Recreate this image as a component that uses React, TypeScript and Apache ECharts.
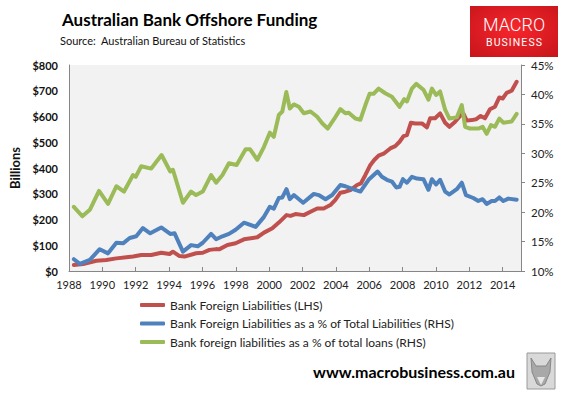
import React, { useEffect, useRef } from "react";
import * as echarts from "echarts";

const xTickYears = [1988, 1990, 1992, 1994, 1996, 1998, 2000, 2002, 2004, 2006, 2008, 2010, 2012, 2014];

const seriesNames = [
  "Bank Foreign Liabilities (LHS)",
  "Bank Foreign Liabilities as a % of Total Liabilities (RHS)",
  "Bank foreign liabilities as a % of total loans (RHS)",
];

// Bank Foreign Liabilities ($ billions, LHS)
const redYears = [1988.29, 1988.85, 1989.64, 1990.24, 1990.84, 1991.44, 1991.84, 1992.33, 1992.93, 1993.53, 1994.03, 1994.23, 1994.63, 1994.93, 1995.62, 1996.02, 1996.42, 1996.82, 1997.0, 1997.5, 1997.99, 1998.49, 1999.29, 1999.69, 2000.19, 2000.58, 2001.04, 2001.28, 2001.58, 2002.08, 2002.48, 2002.88, 2003.27, 2003.67, 2003.97, 2004.27, 2004.57, 2004.87, 2005.27, 2005.5, 2005.77, 2006.07, 2006.3, 2006.56, 2006.9, 2007.26, 2007.56, 2007.82, 2008.06, 2008.26, 2008.5, 2008.76, 2009.16, 2009.46, 2009.65, 2009.95, 2010.25, 2010.55, 2010.81, 2011.15, 2011.45, 2011.64, 2011.85, 2012.15, 2012.4, 2012.68, 2012.94, 2013.24, 2013.54, 2013.8, 2014.0, 2014.24, 2014.54, 2014.84];
const redValues = [23, 27, 40, 43, 49, 53, 56, 62, 62, 71, 66, 75, 58, 56, 69, 71, 82, 85, 84, 101, 108, 123, 131, 149, 166, 188, 217, 214, 221, 217, 230, 243, 243, 256, 276, 304, 308, 314, 334, 340, 373, 412, 431, 448, 457, 476, 485, 502, 524, 528, 576, 573, 573, 558, 593, 593, 612, 576, 560, 580, 602, 612, 584, 586, 589, 602, 593, 628, 638, 674, 670, 692, 700, 735];

// % of total liabilities (RHS)
const blueYears = [1988.29, 1988.65, 1989.25, 1989.84, 1990.34, 1990.84, 1991.24, 1991.64, 1992.03, 1992.43, 1992.87, 1993.53, 1994.07, 1994.33, 1994.83, 1995.32, 1995.72, 1996.02, 1996.52, 1996.82, 1997.2, 1997.59, 1997.99, 1998.49, 1999.19, 1999.69, 2000.04, 2000.28, 2000.58, 2000.79, 2001.04, 2001.24, 2001.48, 2002.04, 2002.68, 2002.97, 2003.38, 2003.78, 2004.27, 2004.57, 2005.03, 2005.47, 2005.96, 2006.5, 2006.76, 2007.06, 2007.36, 2007.62, 2007.82, 2008.02, 2008.26, 2008.56, 2008.86, 2009.25, 2009.55, 2009.76, 2010.01, 2010.25, 2010.55, 2010.81, 2011.25, 2011.55, 2011.8, 2012.24, 2012.54, 2012.8, 2013.04, 2013.34, 2013.54, 2013.8, 2014.04, 2014.34, 2014.84];
const blueValues = [12.0, 11.2, 11.9, 13.7, 13.0, 14.8, 14.7, 15.6, 15.9, 17.3, 16.4, 17.4, 16.3, 16.4, 13.3, 14.4, 14.2, 14.8, 16.3, 15.4, 15.9, 16.3, 17.0, 18.2, 17.5, 19.2, 20.9, 20.6, 22.4, 22.5, 23.9, 22.2, 22.9, 21.6, 23.1, 22.9, 22.2, 22.9, 24.6, 24.4, 23.9, 23.5, 25.5, 26.9, 26.0, 25.5, 25.2, 24.2, 24.3, 25.6, 25.0, 26.0, 25.7, 25.6, 23.8, 25.6, 24.7, 25.5, 23.5, 23.0, 23.9, 25.0, 22.9, 22.4, 21.9, 22.2, 21.4, 21.9, 21.9, 22.5, 21.9, 22.3, 22.1];

// % of total loans (RHS)
const greenYears = [1988.29, 1988.8, 1989.25, 1989.8, 1990.34, 1990.84, 1991.3, 1991.84, 1992.0, 1992.33, 1992.93, 1993.55, 1994.07, 1994.23, 1994.83, 1995.32, 1995.62, 1996.02, 1996.52, 1996.82, 1997.2, 1997.59, 1998.05, 1998.59, 1998.85, 1999.29, 1999.69, 2000.04, 2000.28, 2000.58, 2000.79, 2001.03, 2001.24, 2001.48, 2001.78, 2002.08, 2002.48, 2002.88, 2003.18, 2003.51, 2003.87, 2004.27, 2004.57, 2004.77, 2005.17, 2005.47, 2005.77, 2006.02, 2006.26, 2006.56, 2006.96, 2007.36, 2007.82, 2008.1, 2008.26, 2008.56, 2008.82, 2009.25, 2009.55, 2009.76, 2010.01, 2010.25, 2010.55, 2010.81, 2011.25, 2011.55, 2011.75, 2012.04, 2012.54, 2012.8, 2013.04, 2013.3, 2013.54, 2013.8, 2014.04, 2014.54, 2014.84];
const greenValues = [20.9, 19.3, 20.4, 23.6, 21.4, 24.4, 23.5, 26.3, 26.0, 27.8, 27.4, 29.7, 26.9, 27.2, 21.6, 23.5, 22.9, 23.5, 26.3, 25.0, 26.3, 28.3, 28.0, 30.7, 30.7, 28.9, 31.1, 33.5, 32.8, 36.5, 37.1, 40.4, 37.6, 38.3, 37.9, 36.8, 37.1, 36.2, 35.1, 34.2, 35.7, 37.5, 36.8, 36.9, 35.9, 35.7, 38.2, 40.1, 40.1, 41.0, 40.2, 39.6, 37.9, 39.2, 38.8, 41.0, 41.8, 40.8, 39.1, 41.0, 39.9, 40.5, 37.4, 35.9, 36.1, 38.2, 34.5, 34.2, 34.2, 34.5, 33.3, 34.8, 34.5, 35.9, 35.2, 35.4, 36.7];

const zip = (xs: number[], ys: number[]) => xs.map((x, i) => [x, ys[i]]);

const FONT = "Lato, 'Noto Sans', sans-serif";

export default function App() {
  const ref = useRef<HTMLDivElement>(null);
  useEffect(() => {
    if (!ref.current) return;
    const chart = echarts.init(ref.current, undefined, { renderer: "svg" });
    const colors = ["#c0504d", "#4f81bd", "#9bbb59"];
    const lineSeries = (name: string, data: number[][], color: string, yAxisIndex: number) => ({
      name,
      type: "line",
      data,
      yAxisIndex,
      symbol: "none",
      lineStyle: { width: 4, color, cap: "round", join: "round" },
      itemStyle: { color },
    });
    chart.setOption({
      animation: false,
      backgroundColor: "#ffffff",
      textStyle: { fontFamily: FONT },
      grid: { left: 68, right: 45, top: 65, bottom: 122, show: true, backgroundColor: "#f2f2f2", borderWidth: 0 },
      legend: {
        orient: "vertical",
        left: 135,
        top: 293,
        icon: "roundRect",
        itemWidth: 25,
        itemHeight: 4,
        itemGap: 4.5,
        data: seriesNames,
        textStyle: { fontSize: 12, color: "#222", lineHeight: 14, fontFamily: FONT },
      },
      xAxis: {
        type: "value",
        min: 1988,
        max: 2015.1,
        interval: 2,
        splitLine: { show: false },
        axisLine: { show: true, lineStyle: { color: "#868686", width: 1 } },
        axisTick: { show: true, inside: true, length: 4, lineStyle: { color: "#868686" } },
        axisLabel: {
          margin: 8,
          fontSize: 11,
          color: "#222",
          showMaxLabel: false,
          formatter: (v: number) => (xTickYears.indexOf(v) >= 0 ? String(v) : ""),
        },
      },
      yAxis: [
        {
          type: "value",
          min: 0,
          max: 800,
          interval: 100,
          position: "left",
          name: "Billions",
          nameLocation: "middle",
          nameRotate: 90,
          nameGap: 48,
          nameTextStyle: { fontSize: 13, fontWeight: "bold", color: "#111", fontFamily: FONT },
          splitLine: { show: false },
          axisLine: { show: true, lineStyle: { color: "#868686" } },
          axisTick: { show: false },
          axisLabel: { margin: 11, fontSize: 11, fontWeight: "bold", color: "#111", formatter: (v: number) => "$" + v },
        },
        {
          type: "value",
          min: 10,
          max: 45,
          interval: 5,
          position: "right",
          splitLine: { show: false },
          axisLine: { show: true, lineStyle: { color: "#868686" } },
          axisTick: { show: true, inside: false, length: 4, lineStyle: { color: "#868686" } },
          axisLabel: { margin: 10, fontSize: 11.5, color: "#222", formatter: (v: number) => v + "%" },
        },
      ],
      series: [
        lineSeries(seriesNames[0], zip(redYears, redValues), colors[0], 0),
        lineSeries(seriesNames[1], zip(blueYears, blueValues), colors[1], 1),
        lineSeries(seriesNames[2], zip(greenYears, greenValues), colors[2], 1),
      ],
      graphic: [
        {
          type: "text",
          left: 62,
          top: 11,
          style: { text: "Australian Bank Offshore Funding", fontSize: 17, fontWeight: "bold", fill: "#000", fontFamily: FONT },
        },
        {
          type: "text",
          left: 60,
          top: 35,
          style: { text: "Source:  Australian Bureau of Statistics", fontSize: 11, fill: "#111", fontFamily: FONT },
        },
        {
          type: "rect",
          shape: { x: 470, y: 6, width: 88, height: 51 },
          style: {
            fill: new echarts.graphic.RadialGradient(0.5, 0.45, 0.75, [
              { offset: 0, color: "#f7262c" },
              { offset: 1, color: "#c5141b" },
            ]),
          },
        },
        {
          type: "text",
          x: 514,
          y: 24,
          style: { text: "MACRO", fontSize: 18, lineHeight: 18, fontWeight: 300, fill: "#fff", align: "center", verticalAlign: "middle", fontFamily: "Roboto, sans-serif" },
        },
        {
          type: "text",
          x: 514,
          y: 42,
          style: { text: "B\u200aU\u200aS\u200aI\u200aN\u200aE\u200aS\u200aS", fontSize: 10.5, lineHeight: 10.5, fill: "#fff", align: "center", verticalAlign: "middle", fontFamily: "Roboto, sans-serif" },
        },
        {
          type: "text",
          x: 414,
          y: 371,
          style: { text: "www.macrobusiness.com.au", fontSize: 16, fontWeight: "bold", fill: "#000", align: "center", verticalAlign: "middle", fontFamily: FONT },
        },
        {
          type: "rect",
          shape: { x: 527, y: 353, width: 28, height: 36 },
          style: { fill: "#d9d9d9", stroke: "#9a9a9a", lineWidth: 1 },
        },
        {
          type: "polygon",
          shape: { points: [[531, 358], [536, 366], [546, 366], [551, 358], [550, 372], [545, 384], [541, 386], [537, 384], [532, 372]] },
          style: { fill: "#a8a8a8", stroke: "#7a7a7a", lineWidth: 0.8 },
        },
        {
          type: "polygon",
          shape: { points: [[537, 377], [545, 377], [541, 385]] },
          style: { fill: "#e6e6e6" },
        },
      ],
    });
    return () => chart.dispose();
  }, []);
  return <div ref={ref} style={{ position: "fixed", left: 0, top: 0, width: 566, height: 393 }} />;
}
